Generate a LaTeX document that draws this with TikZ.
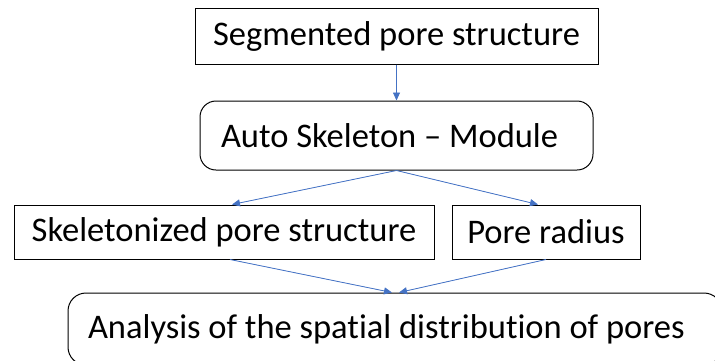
\documentclass[tikz,border=0pt]{standalone}
\usepackage{fontspec}
\setmainfont{Carlito}[Ligatures=NoCommon]
\usetikzlibrary{arrows.meta,calc}

\definecolor{flowblue}{RGB}{68,114,196}

\tikzset{
  box/.style={draw,rectangle,line width=1pt,inner sep=0pt,font=\fontsize{34.5}{40}\selectfont},
  roundbox/.style={box,rounded corners=16pt},
  flow/.style={-{Triangle[length=8pt,width=7pt]},draw=flowblue,fill=flowblue,line width=0.8pt}
}

\begin{document}
\begin{tikzpicture}[x=1pt,y=-1pt]
    \useasboundingbox (0,0) rectangle (715,360);
    \clip (0,0) rectangle (715,360);

    \node[box,minimum width=403pt,minimum height=56pt] (seg) at (396.5,36) {Segmented pore structure};
    \node[roundbox,minimum height=69pt,text width=351pt,inner xsep=21pt,align=flush left] (auto) at (396.5,135.5) {Auto Skeleton -- Module};
    \node[box,minimum width=420pt,minimum height=54pt] (skel) at (224,232) {Skeletonized pore structure};
    \node[box,minimum width=188pt,minimum height=54pt] (radius) at (546,232) {Pore radius};
    \node[roundbox,rounded corners=18pt,minimum height=72pt,text width=614pt,inner xsep=20pt,align=flush left] (analysis) at (395,329) {Analysis of the spatial distribution of pores};

    \draw[flow] (seg) -- (auto);
    \draw[flow] (auto.south) -- ([xshift=8pt]skel.north);
    \draw[flow] (auto.south) -- ([xshift=-8pt]radius.north);
    \draw[flow] ([xshift=6pt]skel.south) -- ([xshift=-3pt]analysis.north);
    \draw[flow] (radius.south) -- ([xshift=4pt]analysis.north);
\end{tikzpicture}
\end{document}
